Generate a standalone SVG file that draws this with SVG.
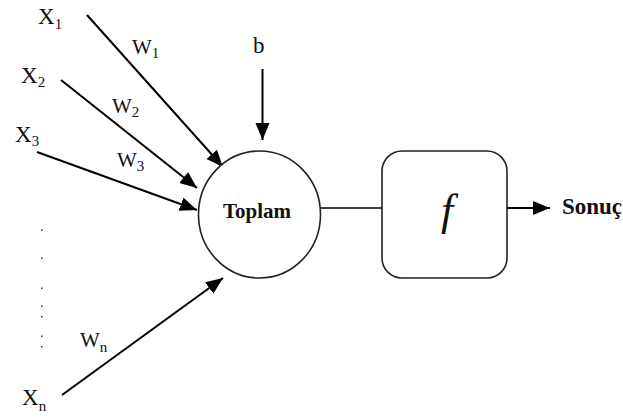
<svg xmlns="http://www.w3.org/2000/svg" width="623" height="419" viewBox="0 0 623 419">
<style>
text{font-family:'Liberation Serif','DejaVu Serif',serif;fill:#111;}
.x{font-size:23px;}
.w{font-size:21px;}
.sub{font-size:15px;}
.bold{font-weight:bold;font-size:21px;}
.arr{stroke:#000;stroke-width:2;fill:none;marker-end:url(#ah);}
.edge{stroke:#000;stroke-width:1.5;fill:none;}
.shape{stroke:#222;stroke-width:1.6;fill:#fff;}
.dot{fill:#333;}
</style>
<defs>
<marker id="ah" markerUnits="userSpaceOnUse" markerWidth="19" markerHeight="15" refX="17" refY="7" orient="auto">
<path d="M0,0 L17,7 L0,14 z" fill="#000"/>
</marker>
</defs>
<rect width="623" height="419" fill="#fff"/>

<g id="connectors">
<line class="arr" x1="87" y1="15" x2="223" y2="167"/>
<line class="arr" x1="61" y1="80" x2="197" y2="188"/>
<line class="arr" x1="37" y1="152" x2="197" y2="210"/>
<line class="arr" x1="62" y1="395" x2="223" y2="278"/>
<line class="arr" x1="262.5" y1="69" x2="262.5" y2="140"/>
<line class="edge" x1="320.5" y1="208" x2="382" y2="208"/>
<line class="arr" x1="507" y1="208" x2="550" y2="208"/>
</g>

<g id="input-x1"><text class="x" x="38" y="24">X<tspan class="sub" dy="5">1</tspan></text></g>
<g id="input-x2"><text class="x" x="21" y="83">X<tspan class="sub" dy="4">2</tspan></text></g>
<g id="input-x3"><text class="x" x="15" y="142">X<tspan class="sub" dy="4">3</tspan></text></g>
<g id="input-xn"><text class="x" x="22" y="405">X<tspan class="sub" dy="6">n</tspan></text></g>

<g id="weights">
<text class="w" x="132" y="54">W<tspan class="sub" dy="4">1</tspan></text>
<text class="w" x="112" y="113">W<tspan class="sub" dy="4">2</tspan></text>
<text class="w" x="117" y="167">W<tspan class="sub" dy="4">3</tspan></text>
<text class="w" x="80" y="347">W<tspan class="sub" dy="5">n</tspan></text>
</g>

<g id="ellipsis">
<rect class="dot" x="41" y="229.5" width="1.5" height="1.5"/>
<rect class="dot" x="41" y="257.5" width="1.5" height="1.5"/>
<rect class="dot" x="41" y="287.5" width="1.5" height="1.5"/>
<rect class="dot" x="41" y="305.5" width="1.5" height="1.5"/>
<rect class="dot" x="41" y="316" width="1.5" height="1.5"/>
<rect class="dot" x="41" y="335.5" width="1.5" height="1.5"/>
<rect class="dot" x="41" y="346" width="1.5" height="1.5"/>
</g>

<g id="bias"><text class="x" x="253" y="53">b</text></g>

<g id="sum">
<ellipse class="shape" cx="259.5" cy="214.5" rx="61" ry="63.5"/>
<text class="bold" x="257" y="218" text-anchor="middle">Toplam</text>
</g>

<g id="activation">
<rect class="shape" x="382" y="151" width="125" height="127" rx="20" ry="20"/>
<text x="447" y="225" text-anchor="middle" font-size="44" font-style="italic">f</text>
</g>

<g id="output"><text class="bold" x="562" y="214" font-size="23" style="font-size:23px">Sonuç</text></g>
</svg>
